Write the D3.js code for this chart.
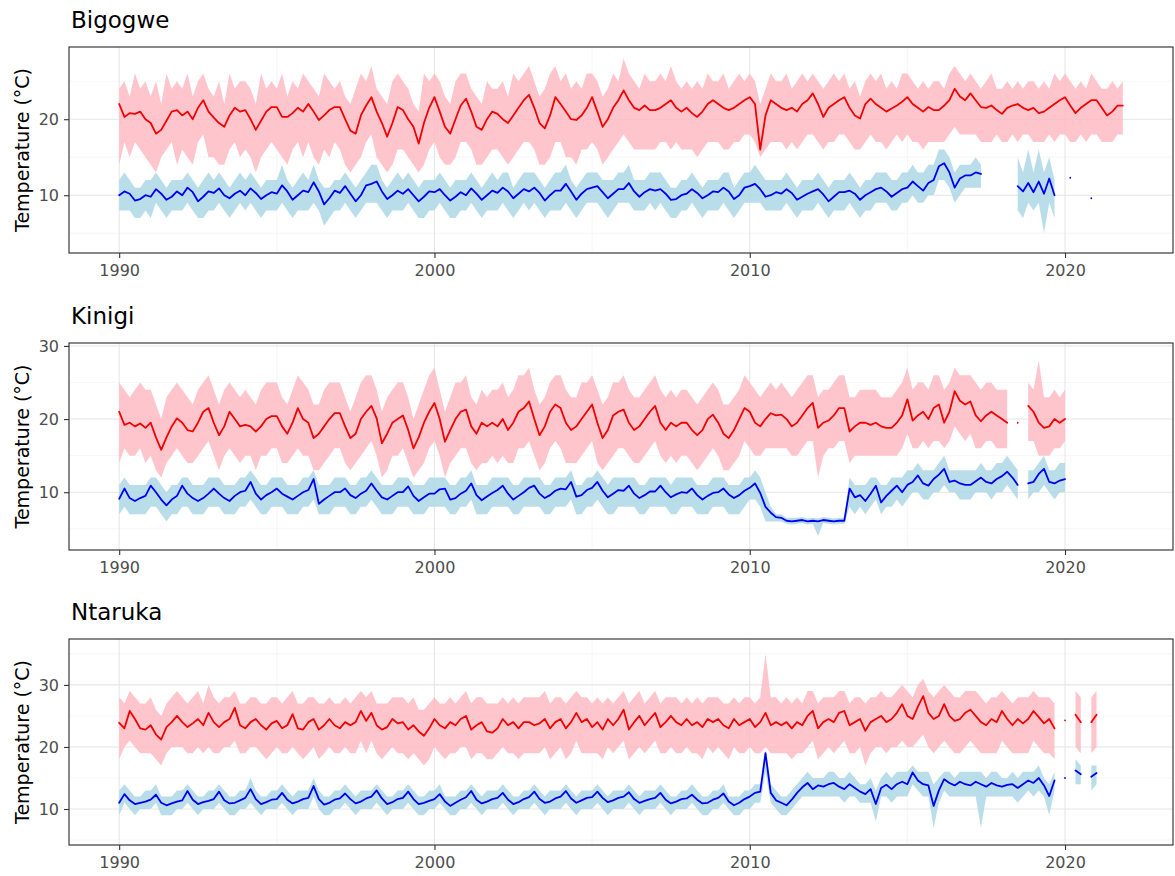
<!DOCTYPE html>
<html>
<head>
<meta charset="utf-8">
<script src="https://cdn.jsdelivr.net/npm/d3@7"></script>
<style>
  body { margin: 0; background: #fff; }
  svg { display: block; font-family: "DejaVu Sans", sans-serif; }
</style>
</head>
<body>
<svg id="chart" width="1175" height="876"></svg>
<script>
/* Monthly station temperatures, sampled every two months (Jan, Mar, May, Jul, Sep, Nov).
   null = no record for that step. */

const STATIONS = ["Bigogwe", "Kinigi", "Ntaruka"];
const START_YEAR = 1990;
const STEPS_PER_YEAR = 6;
const X_TICKS = [1990, 2000, 2010, 2020];
const Y_TICKS = [[10, 20], [10, 20, 30], [10, 20, 30]];
const Y_LIMITS = [[2.4, 29.5], [2.1, 30.4], [4.2, 37.4]];

/* ---------- BIGOGWE ---------- */

const bigogweTmax = [
  22.0, 20.3, 20.8, 20.7, 21.0, 20.0,
  19.5, 18.1, 18.6, 19.8, 21.0, 21.2,
  20.5, 21.0, 20.0, 21.5, 22.5, 21.0,
  20.2, 19.5, 19.0, 20.5, 21.5, 21.0,
  21.2, 20.0, 18.6, 19.8, 21.0, 21.6,
  21.6, 20.3, 20.3, 20.8, 21.5, 21.0,
  22.0, 21.0, 19.9, 20.5, 21.2, 21.6,
  21.6, 20.0, 18.5, 18.1, 20.5, 21.8,
  22.9, 21.0, 19.5, 17.7, 19.5, 21.6,
  21.2, 20.0, 19.0, 16.8, 19.5, 21.5,
  22.9, 21.0, 19.0, 18.1, 20.0, 21.8,
  22.7, 21.0, 19.0, 18.6, 20.0, 21.0,
  20.7, 20.0, 19.5, 20.5, 21.5, 22.5,
  23.2, 21.5, 19.5, 18.8, 20.5, 22.9,
  22.0, 21.0, 20.0, 19.9, 20.5, 21.5,
  22.9, 21.0, 19.0, 20.0, 21.5, 22.5,
  23.8, 22.5, 21.5, 21.2, 21.8, 21.2,
  21.2, 21.5, 22.0, 22.5, 21.5, 21.0,
  21.5, 20.8, 20.3, 21.0, 22.0, 22.5,
  22.0, 21.5, 21.2, 21.5, 22.0, 22.5,
  22.9, 22.0, 16.0, 20.5, 22.5, 22.0,
  21.5, 21.2, 21.5, 21.0, 22.0, 22.5,
  23.4, 22.0, 20.3, 21.5, 22.0, 22.5,
  22.9, 21.5, 20.5, 20.1, 22.0, 22.7,
  22.0, 21.5, 21.0, 21.4, 21.8, 22.3,
  22.9, 22.0, 21.5, 21.0, 21.6, 21.2,
  21.2, 21.8, 22.5, 24.0, 23.0, 22.5,
  23.4, 22.5, 21.6, 21.5, 21.8, 21.2,
  20.7, 21.5, 21.8, 22.0, 21.5, 21.2,
  21.5, 20.8, 21.0, 21.5, 22.0, 22.5,
  22.9, 21.8, 20.8, 21.5, 22.0, 22.5,
  22.5, 21.5, 20.5, 21.0, 21.8, 21.8
];
const bigogweTmaxHi = [
  24, 25, 23, 26, 24, 25,
  23, 25, 22, 26, 24, 25,
  24, 26, 23, 25, 26, 24,
  23, 25, 22, 26, 24, 25,
  25, 24, 22, 26, 24, 25,
  24, 26, 23, 25, 24, 26,
  25, 24, 23, 26, 25, 24,
  25, 23, 22, 24, 26, 25,
  27, 24, 23, 22, 25, 26,
  25, 24, 22, 21, 26, 25,
  26, 25, 23, 22, 25, 26,
  26, 24, 23, 22, 25, 24,
  24, 25, 23, 26, 25, 26,
  27, 25, 23, 24, 26, 27,
  25, 26, 24, 25, 24, 26,
  26, 25, 23, 24, 26, 25,
  28, 26, 25, 24, 26, 25,
  25, 26, 25, 27, 25, 24,
  25, 24, 25, 24, 26, 25,
  25, 26, 24, 25, 26, 25,
  26, 25, 22, 24, 26, 25,
  25, 26, 24, 25, 26, 25,
  26, 25, 24, 25, 26, 25,
  26, 24, 25, 23, 25, 26,
  25, 26, 24, 25, 24, 26,
  26, 25, 24, 25, 24, 25,
  25, 24, 26, 27, 26, 25,
  26, 25, 24, 25, 26, 24,
  24, 25, 24, 25, 24, 25,
  25, 24, 25, 24, 26, 25,
  26, 25, 24, 25, 24, 26,
  25, 24, 24, 25, 24, 25
];
const bigogweTmaxLo = [
  14, 17, 15, 17, 16, 15,
  14, 13, 15, 16, 17, 14,
  16, 15, 14, 17, 18, 15,
  15, 14, 14, 16, 17, 15,
  16, 15, 13, 15, 16, 17,
  16, 15, 14, 16, 17, 15,
  17, 15, 14, 16, 15, 17,
  16, 14, 13, 14, 15, 17,
  18, 15, 14, 13, 14, 16,
  16, 15, 14, 13, 14, 16,
  17, 15, 14, 14, 15, 17,
  17, 16, 14, 14, 15, 16,
  16, 15, 14, 15, 16, 17,
  17, 16, 14, 14, 15, 17,
  17, 15, 15, 14, 16, 16,
  17, 16, 14, 15, 16, 17,
  18, 17, 16, 16, 16, 16,
  16, 17, 17, 16, 17, 16,
  16, 16, 15, 16, 17, 17,
  17, 16, 16, 17, 17, 18,
  18, 17, 15, 16, 17, 17,
  17, 16, 17, 16, 17, 18,
  18, 17, 16, 17, 17, 18,
  18, 17, 16, 16, 17, 18,
  17, 17, 16, 17, 18, 17,
  18, 17, 17, 16, 17, 17,
  17, 17, 18, 19, 18, 18,
  18, 18, 17, 17, 17, 18,
  17, 17, 18, 17, 18, 18,
  17, 17, 17, 18, 17, 18,
  18, 17, 17, 18, 17, 18,
  18, 17, 17, 17, 18, 18
];
const bigogweTmin = [
  10.0, 10.5, 10.2, 9.3, 9.5, 10.0,
  9.8, 10.8, 10.2, 9.4, 9.8, 10.5,
  10.0, 11.0, 10.4, 9.2, 9.8, 10.5,
  10.3, 10.9, 10.0, 9.6, 10.2, 10.6,
  10.0, 10.9, 10.3, 9.5, 10.0, 10.4,
  10.2, 11.3, 10.5, 9.4, 10.0, 10.6,
  10.4, 11.7, 10.5, 8.8, 9.6, 10.6,
  10.3, 11.2, 10.2, 9.2, 10.0, 11.3,
  11.5, 11.8, 10.5, 9.5, 10.0, 10.6,
  10.2, 10.8, 10.0, 9.2, 9.8, 10.5,
  10.4, 10.8, 10.0, 9.3, 9.8, 10.4,
  10.0, 10.9, 10.2, 9.4, 10.0, 10.6,
  10.3, 11.0, 10.5, 9.6, 10.2, 10.8,
  10.5, 11.0, 10.3, 9.3, 10.0, 10.6,
  10.6, 11.5, 10.5, 9.4, 10.2, 10.8,
  11.0, 11.2, 10.4, 9.6, 10.2, 10.8,
  10.8, 11.6, 10.5, 9.8, 10.4, 10.8,
  10.6, 10.8, 10.2, 9.4, 9.5, 10.0,
  10.2, 10.8, 10.3, 9.6, 10.0, 10.5,
  10.4, 11.0, 10.5, 9.5, 10.0, 11.0,
  11.2, 11.5, 10.8, 9.8, 10.0, 10.4,
  10.2, 10.8, 10.3, 9.4, 9.8, 10.2,
  10.5, 10.8, 10.1, 9.2, 9.8, 10.4,
  10.4, 10.6, 10.2, 9.4, 10.0, 10.4,
  10.8, 11.0, 10.5, 9.8, 10.3, 10.8,
  11.0, 11.8, 11.2, 10.6, 11.6, 12.0,
  13.8, 14.2, 13.0, 11.0, 12.2, 12.6,
  12.6, 13.0, 12.8, null, null, null,
  null, null, null, 11.2, 10.5, 11.6,
  10.4, 11.8, 10.2, 12.2, 10.0, null,
  null, 12.3, null, null, null, 9.6
];
const bigogweTminHi = [
  12, 13, 12, 11, 11, 12,
  12, 13, 12, 11, 12, 12,
  12, 13, 12, 11, 12, 13,
  12, 13, 12, 11, 12, 13,
  12, 13, 12, 11, 12, 12,
  12, 14, 12, 11, 12, 13,
  12, 14, 12, 11, 11, 12,
  12, 13, 12, 11, 12, 13,
  14, 14, 12, 11, 12, 13,
  12, 13, 12, 11, 12, 12,
  12, 13, 12, 11, 12, 12,
  12, 13, 12, 11, 12, 13,
  12, 13, 13, 11, 12, 13,
  13, 13, 12, 11, 12, 13,
  13, 14, 12, 11, 12, 13,
  13, 13, 12, 12, 12, 13,
  13, 14, 12, 12, 12, 13,
  13, 13, 12, 11, 11, 12,
  12, 13, 12, 11, 12, 12,
  12, 13, 13, 11, 12, 13,
  13, 14, 13, 12, 12, 12,
  12, 13, 12, 11, 12, 12,
  12, 13, 12, 11, 12, 12,
  12, 13, 12, 11, 12, 12,
  13, 13, 13, 12, 12, 13,
  13, 14, 13, 13, 14, 14,
  16, 16, 15, 13, 14, 14,
  14, 15, 14, null, null, null,
  null, null, null, 15, 13, 16,
  13, 16, 13, 15, 12, null,
  null, 14, null, null, null, 11
];
const bigogweTminLo = [
  8, 8, 8, 7, 7, 8,
  7, 9, 8, 7, 8, 8,
  8, 9, 8, 7, 7, 8,
  8, 9, 8, 7, 8, 9,
  8, 9, 8, 7, 8, 8,
  8, 9, 8, 7, 8, 8,
  8, 9, 8, 6, 7, 8,
  8, 9, 8, 7, 8, 9,
  9, 9, 8, 7, 8, 8,
  8, 9, 8, 7, 7, 8,
  8, 9, 8, 7, 7, 8,
  8, 9, 8, 7, 8, 8,
  8, 9, 8, 7, 8, 9,
  8, 9, 8, 7, 8, 8,
  8, 9, 8, 7, 8, 9,
  9, 9, 8, 7, 8, 9,
  9, 9, 8, 8, 8, 9,
  8, 9, 8, 7, 7, 8,
  8, 9, 8, 7, 8, 8,
  8, 9, 8, 7, 8, 9,
  9, 9, 9, 8, 8, 8,
  8, 9, 8, 7, 8, 8,
  8, 9, 8, 7, 8, 8,
  8, 9, 8, 7, 8, 8,
  9, 9, 9, 8, 8, 9,
  9, 10, 9, 9, 10, 10,
  12, 12, 11, 9, 10, 11,
  11, 11, 11, null, null, null,
  null, null, null, 8, 7, 9,
  8, 9, 5, 9, 7, null,
  null, 11, null, null, null, 8
];

/* ---------- KINIGI ---------- */

const kinigiTmax = [
  21.0, 19.2, 19.5, 19.0, 19.4, 18.8,
  19.5, 17.5, 15.8, 17.5, 19.0, 20.1,
  19.5, 18.5, 18.3, 19.5, 21.0, 21.5,
  19.5, 17.8, 19.0, 21.0, 20.0, 19.0,
  19.2, 19.0, 18.3, 19.0, 20.0, 20.4,
  20.4, 19.0, 18.0, 19.5, 21.5, 20.0,
  19.5, 17.4, 18.0, 19.0, 20.0, 20.8,
  20.8, 19.0, 17.4, 18.0, 20.0, 21.0,
  21.8, 20.1, 16.7, 18.0, 19.5, 20.0,
  20.5, 18.5, 16.0, 17.5, 19.5, 21.0,
  22.2, 20.0, 16.9, 18.5, 20.0, 21.0,
  21.3, 19.0, 18.0, 19.5, 19.0, 19.5,
  19.0, 20.0, 18.5, 19.5, 21.0, 21.5,
  22.4, 20.0, 17.8, 19.0, 21.0, 22.0,
  21.5, 19.5, 18.5, 19.0, 20.0, 21.0,
  22.0, 19.5, 17.4, 18.5, 20.5, 21.0,
  21.3, 19.5, 18.5, 19.0, 20.0, 21.0,
  21.8, 19.5, 18.5, 19.5, 19.0, 19.5,
  19.5, 18.5, 17.8, 18.5, 20.0, 20.6,
  19.5, 18.0, 17.4, 18.5, 20.0, 21.5,
  21.0, 19.5, 19.0, 20.0, 20.8, 20.5,
  20.6, 20.0, 19.0, 19.5, 20.5, 21.5,
  22.2, 18.8, 19.5, 19.8, 20.5, 21.5,
  21.5, 18.3, 19.0, 19.5, 19.5, 19.2,
  19.5, 19.0, 18.8, 18.8, 19.5, 20.5,
  22.7, 19.8, 20.5, 21.0, 20.0, 21.5,
  22.0, 19.5, 21.0, 23.8, 22.5, 22.0,
  22.4, 20.5, 19.7, 20.5, 21.0, 20.5,
  20.0, 19.5, null, 19.5, null, 21.8,
  21.0, 19.5, 18.8, 19.0, 20.0, 19.5,
  20.0
];
const kinigiTmaxHi = [
  25, 24, 23, 24, 25, 24,
  24, 22, 20, 23, 24, 25,
  24, 23, 22, 24, 25, 26,
  24, 22, 24, 25, 24, 23,
  24, 23, 22, 24, 25, 25,
  25, 23, 22, 24, 26, 25,
  24, 22, 22, 24, 25, 25,
  25, 23, 21, 23, 25, 26,
  26, 24, 21, 23, 24, 25,
  25, 23, 20, 22, 24, 26,
  27, 24, 21, 23, 25, 25,
  26, 23, 22, 24, 23, 24,
  24, 25, 23, 24, 26, 26,
  27, 24, 22, 23, 25, 26,
  26, 24, 23, 23, 25, 25,
  26, 24, 22, 23, 25, 25,
  26, 24, 23, 23, 24, 25,
  26, 24, 23, 24, 23, 24,
  24, 23, 22, 23, 24, 25,
  24, 22, 22, 23, 24, 26,
  25, 24, 23, 24, 25, 24,
  25, 24, 23, 24, 25, 26,
  26, 23, 24, 24, 25, 26,
  26, 23, 23, 24, 24, 24,
  24, 23, 23, 23, 24, 25,
  27, 24, 25, 25, 24, 26,
  26, 24, 25, 27, 26, 26,
  26, 25, 24, 25, 25, 24,
  24, 24, null, 23, null, 25,
  24, 28, 23, 23, 24, 23,
  24
];
const kinigiTmaxLo = [
  14, 16, 15, 15, 16, 14,
  15, 13, 12, 14, 15, 16,
  15, 14, 14, 15, 16, 17,
  15, 13, 15, 16, 15, 14,
  15, 15, 13, 15, 15, 16,
  16, 14, 14, 15, 16, 15,
  15, 13, 13, 14, 15, 16,
  16, 14, 13, 14, 15, 16,
  17, 15, 12, 13, 15, 15,
  16, 14, 12, 13, 14, 16,
  17, 15, 12, 14, 15, 16,
  16, 14, 13, 14, 14, 15,
  14, 15, 14, 14, 16, 16,
  17, 15, 13, 14, 16, 17,
  16, 14, 14, 14, 15, 16,
  17, 14, 13, 14, 15, 16,
  16, 15, 14, 14, 15, 16,
  17, 15, 14, 15, 14, 15,
  15, 14, 13, 14, 15, 16,
  15, 13, 13, 14, 15, 17,
  16, 15, 15, 16, 16, 16,
  16, 16, 15, 15, 16, 17,
  17, 12, 15, 16, 16, 17,
  17, 14, 15, 15, 15, 15,
  15, 15, 15, 15, 15, 16,
  18, 16, 16, 17, 16, 17,
  17, 16, 17, 19, 18, 17,
  18, 16, 16, 17, 17, 16,
  16, 16, null, 16, null, 17,
  17, 15, 15, 15, 16, 16,
  17
];
const kinigiTmin = [
  9.1, 10.5, 9.2, 8.8, 9.2, 9.5,
  10.9, 10.0, 9.0, 8.2, 9.0, 9.5,
  10.9, 9.8, 9.2, 8.8, 9.2, 9.8,
  10.5, 9.8, 9.2, 8.8, 9.5, 10.0,
  10.2, 11.4, 9.8, 9.0, 9.6, 10.0,
  10.5, 9.8, 9.4, 9.0, 9.5, 10.0,
  10.3, 11.8, 8.4, 9.0, 9.5, 10.0,
  10.0, 10.5, 9.6, 9.2, 9.8, 10.2,
  11.2, 10.2, 9.3, 9.0, 9.5, 10.0,
  10.0, 10.8, 9.5, 8.8, 9.3, 9.8,
  9.8, 10.4, 10.5, 9.0, 9.2, 9.8,
  10.2, 11.2, 9.6, 8.9, 9.4, 9.9,
  10.3, 10.9, 9.8, 9.0, 9.5, 10.0,
  10.6, 10.9, 9.8, 9.2, 9.6, 10.2,
  10.5, 10.4, 11.4, 9.4, 9.6, 10.3,
  10.6, 11.4, 10.2, 9.3, 9.8, 10.3,
  10.2, 10.9, 9.8, 9.2, 9.6, 10.1,
  10.1, 10.9, 10.0, 9.3, 9.7, 10.0,
  9.9, 10.5, 9.6, 9.0, 9.5, 9.9,
  10.0, 10.5, 9.7, 9.2, 9.6, 10.2,
  10.6, 11.2, 9.9, 8.0, 7.2, 6.6,
  6.5, 6.1, 6.0, 6.1, 6.2, 6.0,
  6.1, 6.0, 6.2, 6.1, 6.0, 6.1,
  6.1, 10.5, 9.3, 9.6, 8.8, 9.8,
  10.9, 8.6, 9.5, 10.2, 10.9, 10.0,
  11.0, 11.4, 12.3, 11.2, 10.9, 11.8,
  12.4, 13.2, 11.4, 11.6, 11.2, 11.0,
  11.0, 11.5, 12.0, 11.4, 11.2, 11.8,
  12.2, 12.8, 12.0, 11.0, null, 11.2,
  11.4, 12.5, 13.2, 11.4, 11.2, 11.6,
  11.8
];
const kinigiTminHi = [
  11, 12, 11, 11, 11, 11,
  12, 12, 11, 10, 11, 11,
  12, 12, 11, 11, 11, 12,
  12, 12, 11, 11, 11, 12,
  12, 13, 12, 11, 11, 12,
  12, 12, 11, 11, 11, 12,
  12, 13, 11, 11, 11, 12,
  12, 12, 11, 11, 12, 12,
  13, 12, 11, 11, 11, 12,
  12, 12, 11, 11, 11, 12,
  12, 12, 12, 11, 11, 12,
  12, 13, 11, 11, 11, 12,
  12, 12, 12, 11, 11, 12,
  12, 12, 12, 11, 11, 12,
  12, 12, 13, 11, 11, 12,
  12, 13, 12, 11, 12, 12,
  12, 12, 12, 11, 11, 12,
  12, 12, 12, 11, 12, 12,
  12, 12, 11, 11, 11, 12,
  12, 12, 11, 11, 11, 12,
  12, 13, 12, 10, 8, 7,
  7, 6.5, 6.5, 6.5, 6.6, 6.4,
  6.5, 6.4, 6.6, 6.5, 6.4, 6.5,
  6.5, 12, 11, 11, 11, 12,
  12, 11, 11, 12, 12, 12,
  13, 13, 14, 13, 13, 13,
  14, 15, 13, 13, 13, 13,
  13, 13, 14, 13, 13, 14,
  14, 15, 14, 13, null, 13,
  13, 14, 15, 13, 13, 14,
  14
];
const kinigiTminLo = [
  7, 8, 7, 7, 7, 7,
  8, 8, 7, 6, 7, 7,
  8, 8, 7, 7, 7, 8,
  8, 8, 7, 7, 7, 8,
  8, 9, 8, 7, 7, 8,
  8, 8, 7, 7, 7, 8,
  8, 9, 7, 7, 7, 8,
  8, 8, 7, 7, 8, 8,
  9, 8, 7, 7, 7, 8,
  8, 8, 7, 7, 7, 8,
  8, 8, 8, 7, 7, 8,
  8, 9, 7, 7, 7, 8,
  8, 8, 8, 7, 7, 8,
  8, 8, 8, 7, 7, 8,
  8, 8, 9, 7, 7, 8,
  8, 9, 8, 7, 7, 8,
  8, 8, 8, 7, 7, 8,
  8, 8, 8, 7, 7, 8,
  8, 8, 7, 7, 7, 8,
  8, 8, 7, 7, 7, 8,
  9, 9, 8, 6, 6, 6,
  6, 5.7, 5.6, 5.7, 5.8, 5.6,
  5.7, 4, 5.8, 5.7, 5.6, 5.7,
  5.7, 8, 7, 8, 7, 8,
  9, 7, 8, 8, 9, 8,
  9, 10, 10, 9, 9, 10,
  10, 11, 10, 10, 9, 9,
  9, 10, 10, 10, 9, 10,
  10, 11, 10, 9, null, 9,
  10, 10, 11, 10, 9, 10,
  10
];

/* ---------- NTARUKA ---------- */

const ntarukaTmax = [
  23.9, 23.0, 25.8, 24.5, 23.0, 22.8,
  23.5, 22.0, 21.2, 23.2, 24.0, 25.0,
  24.0, 23.2, 23.8, 24.5, 23.5, 25.5,
  24.0, 23.2, 24.0, 24.5, 26.3, 23.5,
  23.0, 24.0, 24.5, 23.5, 22.8, 23.8,
  24.2, 23.0, 23.5, 25.3, 23.0, 22.8,
  24.0, 24.5, 22.8, 23.5, 24.5, 23.5,
  23.0, 24.0, 23.5, 24.0, 25.8, 24.2,
  25.5, 23.5, 22.8, 23.2, 24.5, 23.8,
  24.0, 22.8, 23.5, 22.5, 21.8, 23.0,
  24.5, 23.5, 23.0, 24.0, 23.5, 24.5,
  25.0, 22.8, 23.5, 24.0, 22.5, 22.3,
  23.0, 24.5, 23.5, 24.0, 23.0, 24.0,
  24.0, 23.5, 23.8, 24.5, 23.0, 24.0,
  24.5, 23.0, 24.0, 25.5, 24.0, 24.5,
  23.2, 24.0, 22.8, 24.5, 23.5, 24.5,
  26.0, 22.8, 24.0, 25.0, 23.5, 24.5,
  25.5, 23.2, 24.0, 25.0, 24.0, 23.5,
  24.5, 23.5, 24.0, 23.2, 24.5, 24.0,
  24.5, 23.5, 23.0, 24.5, 23.5, 24.0,
  24.5, 23.2, 24.0, 25.5, 23.5, 24.0,
  23.5, 24.0, 23.0, 24.0, 23.5, 25.0,
  25.8, 23.0, 24.0, 24.5, 24.0, 25.5,
  25.8, 23.5, 24.0, 24.5, 22.6, 24.0,
  24.5, 25.0, 24.0, 24.5, 25.5, 26.9,
  25.0, 24.5, 26.5, 28.2, 25.5, 24.5,
  25.0, 26.9, 25.0, 24.2, 24.5, 25.5,
  26.0, 25.0, 24.0, 23.5, 24.5, 24.0,
  25.8, 24.5, 23.5, 24.5, 23.8, 24.5,
  25.8, 24.8, 23.8, 24.5, 23.0, null,
  24.3, null, 25.2, 24.0, null, 24.0,
  25.2
];
const ntarukaTmaxHi = [
  28, 27, 29, 28, 27, 27,
  28, 26, 25, 27, 28, 29,
  28, 27, 28, 29, 27, 30,
  28, 27, 28, 28, 29, 27,
  27, 28, 28, 27, 27, 28,
  28, 27, 28, 29, 27, 27,
  28, 28, 27, 27, 28, 27,
  27, 28, 27, 28, 29, 28,
  29, 27, 27, 27, 28, 28,
  28, 27, 28, 26, 26, 27,
  28, 27, 27, 28, 27, 28,
  29, 27, 28, 28, 27, 27,
  27, 28, 27, 28, 27, 28,
  28, 28, 28, 29, 27, 28,
  28, 27, 28, 29, 28, 28,
  27, 28, 27, 28, 27, 28,
  29, 27, 28, 29, 27, 28,
  29, 27, 28, 28, 28, 27,
  28, 27, 28, 27, 28, 28,
  28, 27, 27, 28, 27, 28,
  28, 27, 28, 35, 28, 28,
  27, 28, 27, 28, 27, 29,
  29, 27, 28, 28, 28, 29,
  29, 27, 28, 28, 27, 28,
  28, 29, 28, 28, 29, 30,
  29, 28, 30, 31, 29, 28,
  29, 30, 29, 28, 28, 29,
  29, 29, 28, 27, 28, 28,
  29, 28, 27, 28, 28, 28,
  29, 28, 28, 28, 27, null,
  28, null, 29, 28, null, 28,
  29
];
const ntarukaTmaxLo = [
  18, 20, 21, 20, 19, 19,
  19, 18, 17, 19, 20, 20,
  20, 19, 19, 20, 19, 20,
  19, 19, 20, 20, 21, 19,
  19, 20, 20, 19, 18, 19,
  20, 19, 19, 20, 19, 18,
  19, 20, 18, 19, 20, 19,
  19, 20, 19, 19, 21, 19,
  21, 19, 18, 19, 20, 19,
  19, 18, 19, 18, 17, 18,
  20, 19, 18, 19, 19, 20,
  20, 18, 19, 19, 18, 18,
  19, 20, 19, 19, 18, 19,
  19, 19, 19, 20, 18, 19,
  20, 18, 19, 21, 19, 19,
  19, 19, 18, 20, 19, 20,
  21, 18, 19, 20, 19, 20,
  21, 19, 19, 20, 19, 19,
  20, 19, 19, 18, 20, 19,
  20, 19, 18, 20, 19, 19,
  20, 19, 19, 20, 19, 19,
  19, 19, 18, 19, 19, 20,
  21, 18, 19, 20, 19, 20,
  21, 19, 19, 20, 17, 19,
  20, 20, 19, 20, 20, 21,
  20, 20, 21, 22, 20, 19,
  20, 21, 20, 19, 19, 20,
  21, 20, 19, 19, 19, 19,
  21, 20, 19, 19, 19, 19,
  21, 20, 19, 19, 18, null,
  20, null, 20, 19, null, 19,
  20
];
const ntarukaTmin = [
  11.0, 12.4, 11.4, 10.8, 11.0, 11.2,
  11.5, 12.3, 11.0, 10.6, 10.9, 11.2,
  11.4, 12.9, 11.5, 10.8, 11.1, 11.3,
  11.6, 12.8, 11.4, 10.9, 11.0, 11.4,
  11.8, 13.2, 11.6, 10.8, 11.1, 11.5,
  11.6, 12.6, 11.5, 10.9, 11.2, 11.6,
  11.8, 13.7, 11.6, 10.7, 11.0, 11.5,
  11.7, 12.5, 11.6, 10.9, 11.2, 11.7,
  12.0, 13.0, 11.7, 10.8, 11.1, 11.6,
  11.8, 12.8, 11.6, 10.8, 11.0, 11.3,
  11.6, 12.4, 11.2, 10.5, 11.0, 11.5,
  11.9, 12.9, 11.5, 10.9, 11.2, 11.6,
  11.8, 12.6, 11.5, 10.8, 11.1, 11.6,
  11.9, 12.8, 11.6, 11.0, 11.2, 11.7,
  12.0, 12.9, 11.7, 11.0, 11.4, 11.8,
  11.9, 12.8, 11.8, 11.1, 11.4, 11.8,
  12.0, 12.7, 11.6, 11.0, 11.3, 11.6,
  11.8, 12.6, 11.5, 10.9, 11.2, 11.6,
  11.7, 12.3, 11.5, 10.9, 11.0, 11.5,
  11.8, 12.5, 11.2, 10.6, 11.0, 11.6,
  12.0, 12.6, 12.8, 19.0, 12.6, 11.4,
  11.0, 10.6, 11.5, 12.6, 13.5, 14.2,
  13.2, 13.8, 13.6, 14.0, 14.2, 13.6,
  13.2, 14.0, 13.4, 12.8, 12.4, 13.2,
  10.8, 13.4, 13.9, 13.2, 14.0, 14.4,
  14.0, 15.9, 14.6, 14.0, 13.8, 10.5,
  13.0, 14.8, 14.2, 13.8, 14.4, 14.0,
  13.8, 14.4, 14.0, 13.6, 14.2, 13.8,
  13.6, 13.9, 14.0, 13.4, 14.0, 14.6,
  14.2, 15.0, 13.8, 12.1, 14.6, null,
  15.0, null, 16.2, 15.6, null, 15.2,
  15.8
];
const ntarukaTminHi = [
  13, 14, 13, 12, 12, 13,
  13, 14, 12, 12, 12, 13,
  13, 14, 13, 12, 12, 13,
  13, 14, 13, 12, 12, 13,
  13, 15, 13, 12, 12, 13,
  13, 14, 13, 12, 13, 13,
  13, 15, 13, 12, 12, 13,
  13, 14, 13, 12, 13, 13,
  13, 14, 13, 12, 12, 13,
  13, 14, 13, 12, 12, 13,
  13, 14, 12, 12, 12, 13,
  13, 14, 13, 12, 13, 13,
  13, 14, 13, 12, 12, 13,
  13, 14, 13, 12, 13, 13,
  13, 14, 13, 12, 13, 13,
  13, 14, 13, 12, 13, 13,
  13, 14, 13, 12, 13, 13,
  13, 14, 13, 12, 12, 13,
  13, 14, 13, 12, 12, 13,
  13, 14, 12, 12, 12, 13,
  13, 14, 14, 19.5, 14, 13,
  12, 12, 13, 14, 15, 16,
  15, 15, 15, 16, 16, 15,
  15, 16, 15, 14, 14, 15,
  13, 15, 16, 15, 16, 16,
  16, 17, 16, 16, 16, 14,
  15, 16, 16, 15, 16, 16,
  16, 16, 16, 15, 16, 16,
  15, 15, 16, 15, 16, 16,
  16, 17, 15, 14, 16, null,
  17, null, 18, 17, null, 17,
  17
];
const ntarukaTminLo = [
  9, 11, 10, 9, 10, 10,
  10, 11, 9, 9, 9, 10,
  10, 11, 10, 9, 10, 10,
  10, 11, 10, 9, 9, 10,
  10, 11, 10, 9, 10, 10,
  10, 11, 10, 9, 10, 10,
  10, 12, 10, 9, 9, 10,
  10, 11, 10, 9, 10, 10,
  10, 11, 10, 9, 10, 10,
  10, 11, 10, 9, 9, 10,
  10, 11, 10, 9, 9, 10,
  10, 11, 10, 9, 10, 10,
  10, 11, 10, 9, 10, 10,
  10, 11, 10, 9, 10, 10,
  10, 11, 10, 9, 10, 10,
  10, 11, 10, 9, 10, 10,
  10, 11, 10, 9, 10, 10,
  10, 11, 10, 9, 10, 10,
  10, 11, 10, 9, 9, 10,
  10, 11, 10, 9, 9, 10,
  10, 11, 11, 16, 11, 10,
  9, 9, 10, 11, 12, 12,
  12, 12, 12, 12, 12, 12,
  11, 12, 12, 11, 11, 11,
  8, 12, 12, 11, 12, 12,
  12, 14, 13, 12, 12, 7,
  11, 13, 12, 12, 12, 12,
  12, 12, 7, 12, 12, 12,
  12, 12, 12, 11, 12, 13,
  12, 13, 12, 9, 13, null,
  13, null, 14, 14, null, 13,
  14
];

/* ---------- LAYOUT ---------- */

const W = 1175, H = 876;
const PLOT_LEFT = 69, PLOT_RIGHT = 1173;

const panels = [
  { name: STATIONS[0], top: 47,  bottom: 253, yLim: Y_LIMITS[0], yTicks: Y_TICKS[0],
    tmax: bigogweTmax, tmaxLo: bigogweTmaxLo, tmaxHi: bigogweTmaxHi,
    tmin: bigogweTmin, tminLo: bigogweTminLo, tminHi: bigogweTminHi },
  { name: STATIONS[1], top: 343, bottom: 550, yLim: Y_LIMITS[1], yTicks: Y_TICKS[1],
    tmax: kinigiTmax, tmaxLo: kinigiTmaxLo, tmaxHi: kinigiTmaxHi,
    tmin: kinigiTmin, tminLo: kinigiTminLo, tminHi: kinigiTminHi },
  { name: STATIONS[2], top: 639, bottom: 845, yLim: Y_LIMITS[2], yTicks: Y_TICKS[2],
    tmax: ntarukaTmax, tmaxLo: ntarukaTmaxLo, tmaxHi: ntarukaTmaxHi,
    tmin: ntarukaTmin, tminLo: ntarukaTminLo, tminHi: ntarukaTminHi }
];

function timeAt(i) { return START_YEAR + i / STEPS_PER_YEAR; }

/* shared x scale, 5% padding on each side like ggplot */
const lastTime = d3.max(panels, function (p) { return timeAt(p.tmax.length - 1); });
const xPad = (lastTime - START_YEAR) * 0.05;
const x = d3.scaleLinear()
  .domain([START_YEAR - xPad, lastTime + xPad])
  .range([PLOT_LEFT, PLOT_RIGHT]);

const svg = d3.select("#chart");
svg.append("rect").attr("width", W).attr("height", H).attr("fill", "#fff");

const xMinor = [1995, 2005, 2015];

panels.forEach(function (p) {
  const y = d3.scaleLinear().domain(p.yLim).range([p.bottom, p.top]);
  const g = svg.append("g");

  g.append("clipPath").attr("id", "clip-" + p.name)
    .append("rect")
    .attr("x", PLOT_LEFT).attr("y", p.top)
    .attr("width", PLOT_RIGHT - PLOT_LEFT).attr("height", p.bottom - p.top);

  /* grid */
  const yMinor = [];
  for (let v = 5; v < p.yLim[1]; v += 10) if (v > p.yLim[0]) yMinor.push(v);
  const grid = g.append("g");
  grid.selectAll("line.ymin").data(yMinor).enter().append("line")
    .attr("x1", PLOT_LEFT).attr("x2", PLOT_RIGHT)
    .attr("y1", function (d) { return y(d); }).attr("y2", function (d) { return y(d); })
    .attr("stroke", "#f2f2f2").attr("stroke-width", 0.7);
  grid.selectAll("line.xmin").data(xMinor).enter().append("line")
    .attr("y1", p.top).attr("y2", p.bottom)
    .attr("x1", function (d) { return x(d); }).attr("x2", function (d) { return x(d); })
    .attr("stroke", "#f2f2f2").attr("stroke-width", 0.7);
  grid.selectAll("line.ymaj").data(p.yTicks).enter().append("line")
    .attr("x1", PLOT_LEFT).attr("x2", PLOT_RIGHT)
    .attr("y1", function (d) { return y(d); }).attr("y2", function (d) { return y(d); })
    .attr("stroke", "#e6e6e6").attr("stroke-width", 1.1);
  grid.selectAll("line.xmaj").data(X_TICKS).enter().append("line")
    .attr("y1", p.top).attr("y2", p.bottom)
    .attr("x1", function (d) { return x(d); }).attr("x2", function (d) { return x(d); })
    .attr("stroke", "#e6e6e6").attr("stroke-width", 1.1);

  const marks = g.append("g").attr("clip-path", "url(#clip-" + p.name + ")");

  function ribbon(lo, hi) {
    const idx = d3.range(Math.min(lo.length, hi.length));
    return d3.area()
      .defined(function (i) { return lo[i] != null && hi[i] != null; })
      .x(function (i) { return x(timeAt(i)); })
      .y0(function (i) { return y(lo[i]); })
      .y1(function (i) { return y(hi[i]); })(idx);
  }
  function series(vals) {
    return d3.line()
      .defined(function (i) { return vals[i] != null; })
      .x(function (i) { return x(timeAt(i)); })
      .y(function (i) { return y(vals[i]); })(d3.range(vals.length));
  }

  marks.append("path").attr("d", ribbon(p.tmaxLo, p.tmaxHi))
    .attr("fill", "#ffb6c1").attr("opacity", 0.8);
  marks.append("path").attr("d", ribbon(p.tminLo, p.tminHi))
    .attr("fill", "#add8e6").attr("opacity", 0.85);
  marks.append("path").attr("d", series(p.tmax))
    .attr("fill", "none").attr("stroke", "#f00000").attr("stroke-width", 1.8)
    .attr("stroke-linejoin", "round").attr("stroke-linecap", "round");
  marks.append("path").attr("d", series(p.tmin))
    .attr("fill", "none").attr("stroke", "#0000f0").attr("stroke-width", 1.8)
    .attr("stroke-linejoin", "round").attr("stroke-linecap", "round");

  /* panel border */
  g.append("rect")
    .attr("x", PLOT_LEFT).attr("y", p.top)
    .attr("width", PLOT_RIGHT - PLOT_LEFT).attr("height", p.bottom - p.top)
    .attr("fill", "none").attr("stroke", "#3a3a3a").attr("stroke-width", 1.2);

  /* axes */
  const xAxis = g.append("g").attr("transform", "translate(0," + p.bottom + ")")
    .call(d3.axisBottom(x).tickValues(X_TICKS).tickFormat(d3.format("d")).tickSize(5).tickPadding(7));
  const yAxis = g.append("g").attr("transform", "translate(" + PLOT_LEFT + ",0)")
    .call(d3.axisLeft(y).tickValues(p.yTicks).tickSize(5).tickPadding(5));
  [xAxis, yAxis].forEach(function (a) {
    a.select(".domain").remove();
    a.selectAll(".tick line").attr("stroke", "#333").attr("stroke-width", 1.1);
    a.selectAll(".tick text").attr("fill", "#4d4d4d")
      .style("font-family", "'DejaVu Sans', sans-serif").style("font-size", "16px");
  });

  /* title */
  g.append("text")
    .attr("x", PLOT_LEFT + 2).attr("y", p.top - 19)
    .attr("fill", "#000").style("font-size", "23px")
    .text(p.name);

  /* y axis title */
  g.append("text")
    .attr("transform", "translate(29," + ((p.top + p.bottom) / 2) + ") rotate(-90)")
    .attr("text-anchor", "middle")
    .attr("fill", "#000").style("font-size", "19px")
    .text("Temperature (°C)");
});
</script>
</body>
</html>
